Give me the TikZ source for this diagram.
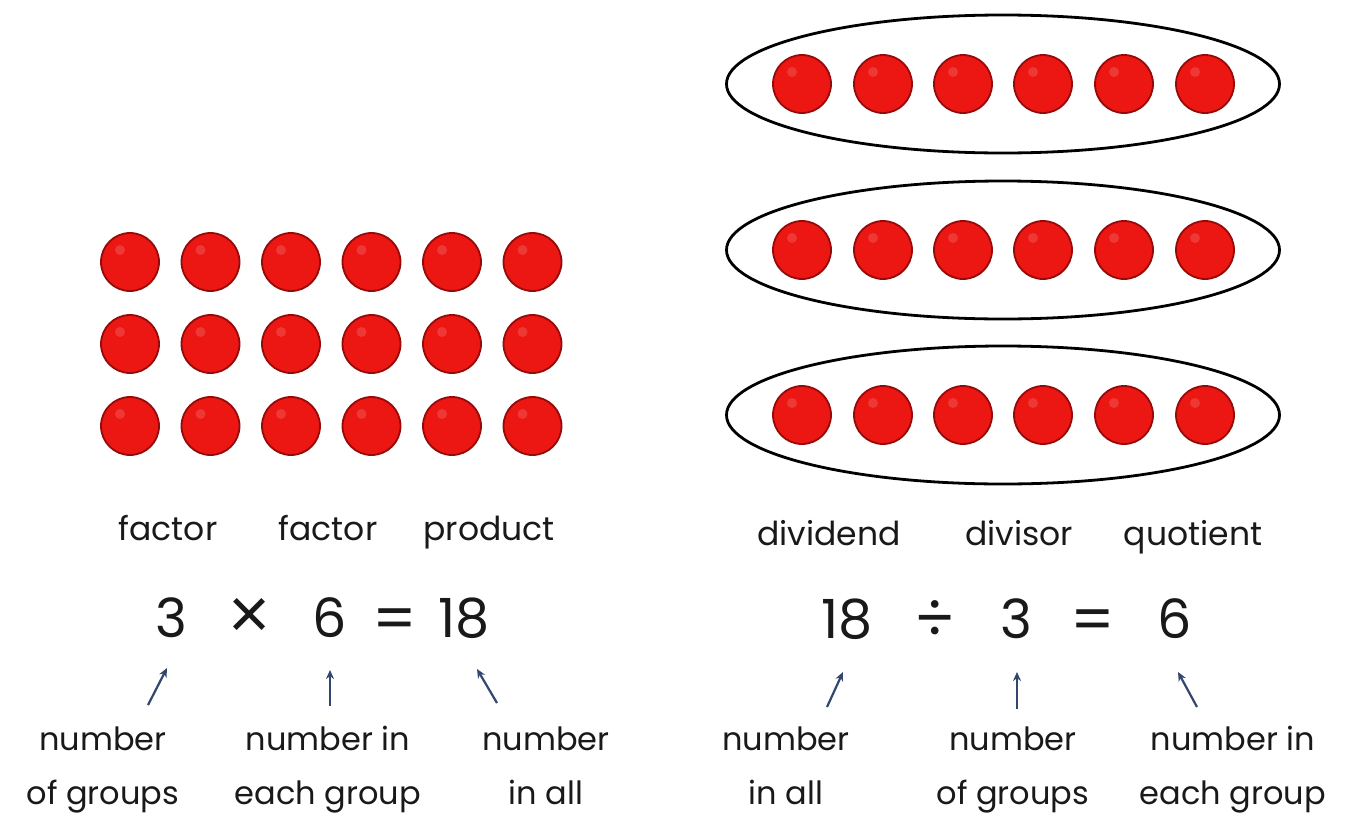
\documentclass[tikz,border=0pt]{standalone}
\usepackage{fontspec}
\setmainfont{Poppins}
\newfontfamily\opfont{Liberation Sans}
\usetikzlibrary{shapes.geometric,arrows.meta}
\definecolor{dotred}{RGB}{236,22,18}
\definecolor{dotrim}{RGB}{150,10,10}
\definecolor{arrblue}{RGB}{50,70,110}
\definecolor{txt}{RGB}{25,25,25}
\tikzset{
  dot/.style={circle,fill=dotred,draw=dotrim,line width=1.8pt,minimum size=58pt,inner sep=0pt},
  grp/.style={ellipse,draw=black,line width=2.8pt,minimum width=553pt,minimum height=138pt,inner sep=0pt},
  lbl/.style={text=txt,font=\fontsize{33}{33}\selectfont,inner sep=0pt,anchor=base},
  eqn/.style={text=txt,font=\fontsize{54}{54}\selectfont,inner sep=0pt,anchor=base},
  note/.style={text=txt,font=\fontsize{32}{54}\selectfont,align=center,inner sep=0pt,anchor=base},
  ptr/.style={draw=arrblue,line width=2.2pt,-{Stealth[length=9pt,width=8pt]}}
}
\begin{document}
\begin{tikzpicture}[x=1pt,y=-1pt]
\useasboundingbox[fill=white] (0,0) rectangle (1355,817);
% left array
\foreach \r/\y in {1/262,2/344,3/426}{
  \foreach \c/\x in {1/130,2/210.5,3/291,4/371.5,5/452,6/532.5}{
    \node[dot] (L\r\c) at (\x,\y) {};
    \fill[white,opacity=0.15] ([shift={(-10,-12)}]L\r\c.center) circle (5pt);
  }
}
% right groups
\foreach \r/\y in {1/84,2/250,3/415}{
  \node[grp] (G\r) at (1003,\y) {};
  \foreach \c/\x in {1/802,2/883,3/963,4/1043,5/1124,6/1205}{
    \node[dot] (R\r\c) at (\x,\y) {};
    \fill[white,opacity=0.15] ([shift={(-10,-12)}]R\r\c.center) circle (5pt);
  }
}
% top labels
\node[lbl] (f1) at (168,540) {factor};
\node[lbl] (f2) at (328,540) {factor};
\node[lbl] (pr) at (489,540) {product};
\node[lbl] (dd) at (829,545) {dividend};
\node[lbl] (dv) at (1019,545) {divisor};
\node[lbl] (qu) at (1193,545) {quotient};
% equations
\node[eqn] (a3) at (171,637) {3};
\node[eqn,font=\fontsize{72}{72}\opfont] (ax) at (250,638) {×};
\node[eqn] (a6) at (330,637) {6};
\node[eqn,font=\fontsize{62}{62}\selectfont] (ae) at (395,640) {=};
\node[eqn] (a18) at (464,637) {18};
\node[eqn] (b18) at (847,638) {18};
\node[eqn,font=\fontsize{62}{62}\selectfont] (bd) at (935,640) {÷};
\node[eqn] (b3) at (1016,638) {3};
\node[eqn,font=\fontsize{62}{62}\selectfont] (be) at (1093,641) {=};
\node[eqn] (b6) at (1175,638) {6};
% arrows
\coordinate (t1) at (148,705); \coordinate (h1) at (167,668);
\coordinate (t2) at (330,706); \coordinate (h2) at (330,670);
\coordinate (t3) at (497,703); \coordinate (h3) at (477,669);
\coordinate (t4) at (827,707); \coordinate (h4) at (843,672);
\coordinate (t5) at (1017,709); \coordinate (h5) at (1017,672);
\coordinate (t6) at (1197,707); \coordinate (h6) at (1178,672);
\draw[ptr] (t1) -- (h1);
\draw[ptr] (t2) -- (h2);
\draw[ptr] (t3) -- (h3);
\draw[ptr] (t4) -- (h4);
\draw[ptr] (t5) -- (h5);
\draw[ptr] (t6) -- (h6);
% bottom notes (anchor base = last line)
\node[note] (n1) at (103,804) {number\\of groups};
\node[note] (n2) at (328,804) {number in\\each group};
\node[note] (n3) at (546,804) {number\\in all};
\node[note] (n4) at (786,804) {number\\in all};
\node[note] (n5) at (1013,804) {number\\of groups};
\node[note] (n6) at (1233,804) {number in\\each group};
\end{tikzpicture}
\end{document}
